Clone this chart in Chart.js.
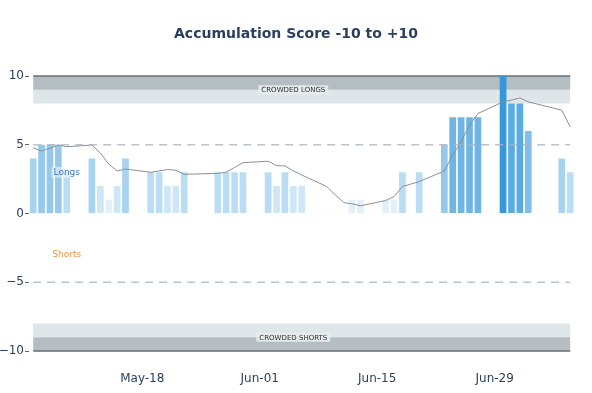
<!DOCTYPE html>
<html>
<head>
<meta charset="utf-8">
<script src="https://cdn.jsdelivr.net/npm/chart.js@4"></script>
<style>
  html, body { margin: 0; padding: 0; background: #ffffff; }
  #c { display: block; }
</style>
</head>
<body>
<canvas id="c" width="592" height="393"></canvas>
<script>
// ---- data ----
const dates = [
  '2025-05-05','2025-05-06','2025-05-07','2025-05-08','2025-05-09',
  '2025-05-12','2025-05-13','2025-05-14','2025-05-15','2025-05-16',
  '2025-05-19','2025-05-20','2025-05-21','2025-05-22','2025-05-23',
  '2025-05-27','2025-05-28','2025-05-29','2025-05-30',
  '2025-06-02','2025-06-03','2025-06-04','2025-06-05','2025-06-06',
  '2025-06-09','2025-06-10','2025-06-11','2025-06-12','2025-06-13',
  '2025-06-16','2025-06-17','2025-06-18','2025-06-20',
  '2025-06-23','2025-06-24','2025-06-25','2025-06-26','2025-06-27',
  '2025-06-30','2025-07-01','2025-07-02','2025-07-03',
  '2025-07-07','2025-07-08'
];
const dailyScores = [
  4, 5, 5, 5, 3,
  4, 2, 1, 2, 4,
  3, 3, 2, 2, 3,
  3, 3, 3, 3,
  3, 2, 3, 2, 2,
  0.1, 0.1, 0.1, 1, 1,
  1, 1, 3, 3,
  5, 7, 7, 7, 7,
  10, 8, 8, 6,
  4, 3
];
const smoothedScores = [
  4.78, 4.54, 4.74, 4.98, 4.86,
  4.98, 4.40, 3.60, 3.09, 3.23,
  3.00, 3.09, 3.20, 3.14, 2.85,
  2.92, 3.00, 3.35, 3.70,
  3.80, 3.48, 3.46, 3.10, 2.80,
  1.96, 1.35, 0.80, 0.70, 0.56,
  0.94, 1.23, 1.96, 2.32,
  3.09, 4.25, 5.22, 6.43, 7.27,
  8.12, 8.24, 8.41, 8.12,
  7.51, 6.30
];
const xTickDates = ['2025-05-18','2025-06-01','2025-06-15','2025-06-29'];
const xTickLabels = ['May-18','Jun-01','Jun-15','Jun-29'];
const yTicks = [-10, -5, 0, 5, 10];
const crowdedLongs = [8, 9, 10];
const crowdedShorts = [-8, -9, -10];
const thresholdLines = [5, -5];
const sideLabels = [{ text: 'Longs', y: 3 }, { text: 'Shorts', y: -3 }];
const titleText = 'Accumulation Score -10 to +10';

// ---- helpers ----
const dayMs = 86400000;
const origin = Date.parse(dates[0] + 'T00:00:00Z');
const dayNum = s => Math.round((Date.parse(s + 'T00:00:00Z') - origin) / dayMs);
const xs = dates.map(dayNum);
const xFirst = xs[0], xLast = xs[xs.length - 1];
const labelX = xs[Math.floor(xs.length / 2)];
const annotX = xs[4];

function barColor(v) {
  const a = Math.max(0.06, 0.05 + 0.095 * v);
  return 'rgba(52,152,219,' + a.toFixed(3) + ')';
}

const bandPlugin = {
  id: 'bands',
  beforeDatasetsDraw(chart) {
    const { ctx, scales: { x, y } } = chart;
    const x0 = x.getPixelForValue(xFirst), x1 = x.getPixelForValue(xLast);
    ctx.save();
    [crowdedLongs, crowdedShorts].forEach(b => {
      const yA = y.getPixelForValue(b[0]), yB = y.getPixelForValue(b[1]), yC = y.getPixelForValue(b[2]);
      ctx.fillStyle = '#dfe6e9';
      ctx.fillRect(x0, Math.min(yA, yB), x1 - x0, Math.abs(yB - yA));
      ctx.fillStyle = '#b3bdc2';
      ctx.fillRect(x0, Math.min(yB, yC), x1 - x0, Math.abs(yC - yB));
      ctx.strokeStyle = '#6a6e72';
      ctx.lineWidth = 1.5;
      ctx.beginPath();
      ctx.moveTo(x0, yC); ctx.lineTo(x1, yC);
      ctx.stroke();
    });
    ctx.restore();
  },
  afterDatasetsDraw(chart) {
    const { ctx, scales: { x, y } } = chart;
    const x0 = x.getPixelForValue(xFirst), x1 = x.getPixelForValue(xLast);
    ctx.save();
    // dashed threshold lines
    ctx.strokeStyle = 'rgba(170,180,192,0.8)';
    ctx.lineWidth = 1.5;
    ctx.setLineDash([8, 6]);
    thresholdLines.forEach(v => {
      const py = y.getPixelForValue(v);
      ctx.beginPath(); ctx.moveTo(x0, py); ctx.lineTo(x1, py); ctx.stroke();
    });
    ctx.setLineDash([]);
    // band labels
    ctx.font = '7px "DejaVu Sans", sans-serif';
    ctx.textAlign = 'center';
    ctx.textBaseline = 'middle';
    [['CROWDED LONGS', crowdedLongs[1]], ['CROWDED SHORTS', crowdedShorts[1]]].forEach(([t, v]) => {
      const px = x.getPixelForValue(labelX), py = y.getPixelForValue(v);
      const w = ctx.measureText(t).width + 6;
      ctx.fillStyle = 'rgba(232,236,238,0.9)';
      ctx.fillRect(px - w / 2, py - 4.5, w, 9);
      ctx.fillStyle = '#333333';
      ctx.fillText(t, px, py + 0.5);
    });
    // side labels
    ctx.font = '9px "DejaVu Sans", sans-serif';
    sideLabels.forEach((s, i) => {
      const px = x.getPixelForValue(annotX), py = y.getPixelForValue(s.y);
      const w = ctx.measureText(s.text).width + 4;
      ctx.fillStyle = 'rgba(255,255,255,0.5)';
      ctx.fillRect(px - w / 2, py - 5.5, w, 11);
      ctx.fillStyle = i === 0 ? '#3b72c4' : '#f0954a';
      ctx.fillText(s.text, px, py);
    });
    ctx.restore();
  }
};

Chart.defaults.font.family = '"DejaVu Sans", sans-serif';
Chart.defaults.font.size = 12;
Chart.defaults.color = '#2a3f5f';

new Chart(document.getElementById('c'), {
  type: 'bar',
  data: {
    datasets: [
      {
        type: 'line',
        data: xs.map((d, i) => ({ x: d, y: smoothedScores[i] })),
        borderColor: '#8a9096',
        borderWidth: 1,
        pointRadius: 0,
        tension: 0,
        fill: false,
        order: 0
      },
      {
        type: 'bar',
        data: xs.map((d, i) => ({ x: d, y: dailyScores[i] })),
        backgroundColor: dailyScores.map(barColor),
        borderWidth: 0,
        categoryPercentage: 1.0,
        barPercentage: 0.8,
        order: 1
      }
    ]
  },
  options: {
    responsive: false,
    animation: false,
    devicePixelRatio: 1,
    layout: { padding: { left: 0, right: 0, top: 0, bottom: 0 } },
    plugins: {
      legend: { display: false },
      tooltip: { enabled: false },
      title: {
        display: true,
        text: titleText,
        color: '#2a3f5f',
        font: { size: 14, weight: 'bold', family: '"DejaVu Sans", sans-serif' },
        padding: { top: 26, bottom: 33.2 }
      }
    },
    scales: {
      x: {
        type: 'linear',
        offset: false,
        min: xFirst - 0.5,
        max: xLast + 0.5,
        grid: { display: false, drawTicks: false },
        border: { display: false },
        afterBuildTicks(scale) {
          scale.ticks = xTickDates.map(s => ({ value: dayNum(s) }));
        },
        ticks: {
          padding: 21,
          maxRotation: 0,
          autoSkip: false,
          color: '#2a3f5f',
          font: { size: 12 },
          callback(v) {
            const i = xTickDates.findIndex(s => dayNum(s) === v);
            return i >= 0 ? xTickLabels[i] : '';
          }
        },
        afterFit(scale) { scale.height = 42; }
      },
      y: {
        min: -10,
        max: 10,
        grid: { drawOnChartArea: false, drawTicks: true, tickLength: 4, color: '#666666', tickWidth: 1 },
        border: { display: false },
        afterBuildTicks(scale) {
          scale.ticks = yTicks.map(v => ({ value: v }));
        },
        ticks: {
          padding: 1,
          color: '#2a3f5f',
          font: { size: 12 },
          callback(v) { return v < 0 ? '\u2212' + Math.abs(v) : String(v); }
        },
        afterFit(scale) { scale.width = 29; }
      },
      yRight: {
        position: 'right',
        min: -10,
        max: 10,
        grid: { display: false },
        border: { display: false },
        ticks: { display: false },
        afterFit(scale) { scale.width = 17.6; }
      }
    }
  },
  plugins: [bandPlugin]
});
</script>
</body>
</html>
